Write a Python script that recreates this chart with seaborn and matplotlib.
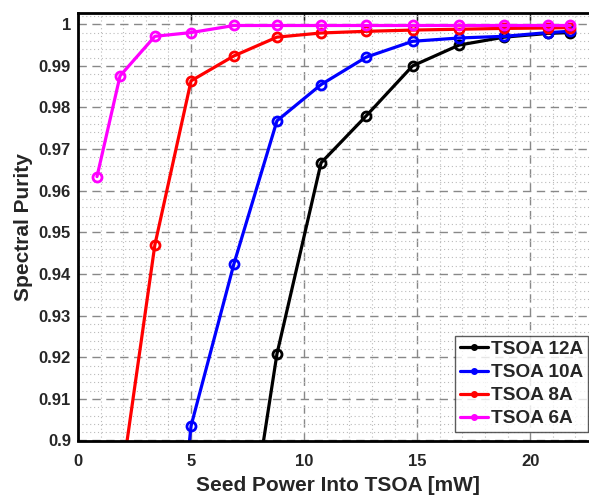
import numpy as np
import pandas as pd
import seaborn as sns
import matplotlib
matplotlib.use("Agg")
import matplotlib.pyplot as plt
from matplotlib.lines import Line2D
from matplotlib.ticker import MultipleLocator

# ---- data ----
x_12A = [6.9, 8.8, 10.75, 12.75, 14.8, 16.86, 18.85, 20.8, 21.77]
y_12A = [0.854, 0.9208, 0.9667, 0.9780, 0.9900, 0.9950, 0.9969, 0.9978, 0.9980]

x_10A = [3.4, 5.0, 6.9, 8.8, 10.75, 12.75, 14.8, 16.86, 18.85, 20.8, 21.77]
y_10A = [0.820, 0.9035, 0.9425, 0.9768, 0.9855, 0.9921, 0.9959, 0.9967, 0.9971, 0.9980, 0.9983]

x_8A = [1.86, 3.4, 5.0, 6.9, 8.8, 10.75, 12.75, 14.8, 16.86, 18.85, 20.8, 21.77]
y_8A = [0.888, 0.9470, 0.9864, 0.9924, 0.9969, 0.9979, 0.9983, 0.9986, 0.9988, 0.9990, 0.9991, 0.9992]

x_6A = [0.84, 1.86, 3.4, 5.0, 6.9, 8.8, 10.75, 12.75, 14.8, 16.86, 18.85, 20.8, 21.77]
y_6A = [0.9634, 0.9876, 0.9971, 0.9980, 0.9997, 0.9997, 0.9997, 0.9997, 0.9997, 0.9997, 0.9997, 0.9997, 0.9997]

series_names = ["TSOA 12A", "TSOA 10A", "TSOA 8A", "TSOA 6A"]
series_colors = ["#000000", "#0000ff", "#ff0000", "#ff00ff"]
x_ticks = [0, 5, 10, 15, 20]
y_ticks = [0.9, 0.91, 0.92, 0.93, 0.94, 0.95, 0.96, 0.97, 0.98, 0.99, 1.0]
y_tick_labels = ["0.9", "0.91", "0.92", "0.93", "0.94", "0.95", "0.96", "0.97", "0.98", "0.99", "1"]

frames = []
for name, xs, ys in zip(series_names,
                        [x_12A, x_10A, x_8A, x_6A],
                        [y_12A, y_10A, y_8A, y_6A]):
    frames.append(pd.DataFrame({"power": xs, "purity": ys, "series": name}))
df = pd.concat(frames, ignore_index=True)

sns.set_theme(style="white")
plt.rcParams["font.family"] = ["Liberation Sans", "DejaVu Sans"]
plt.rcParams["font.weight"] = "bold"

fig = plt.figure(figsize=(5.89, 4.95), dpi=100)
# axes extends slightly past the right edge of the figure, as in the reference crop
ax = fig.add_axes([78 / 589, 1 - 440.5 / 495, (598 - 78) / 589, (440.5 - 13) / 495])

sns.lineplot(data=df, x="power", y="purity", hue="series", hue_order=series_names,
             palette=series_colors, marker="o", linewidth=2.3, markersize=6.5,
             sort=False, estimator=None, legend=False, ax=ax)

for line, c in zip(ax.lines, series_colors):
    line.set_markeredgecolor(c)
    line.set_markerfacecolor("none")
    line.set_markeredgewidth(2.0)

ax.set_xlim(0, 23)
ax.set_ylim(0.9, 1.0027)
ax.set_xticks(x_ticks)
ax.set_xticklabels([str(t) for t in x_ticks])
ax.set_yticks(y_ticks)
ax.set_yticklabels(y_tick_labels)
ax.xaxis.set_minor_locator(MultipleLocator(1))
ax.yaxis.set_minor_locator(MultipleLocator(0.002))

ax.grid(which="major", color="#888888", linestyle=(0, (6, 4)), linewidth=1.0)
ax.grid(which="minor", color="#bbbbbb", linestyle=(0, (1, 2.5)), linewidth=0.8)
ax.set_axisbelow(True)

for s in ax.spines.values():
    s.set_linewidth(2.0)
    s.set_color("black")

ax.tick_params(which="major", direction="in", length=5, width=1.0, labelsize=12,
               top=True, right=True)
ax.tick_params(axis="x", which="major", pad=10)
ax.tick_params(axis="y", which="major", pad=5)
ax.tick_params(which="minor", length=0)
for lab in ax.get_xticklabels() + ax.get_yticklabels():
    lab.set_fontweight("bold")

ax.set_xlabel("Seed Power Into TSOA [mW]", fontsize=15, fontweight="bold", labelpad=5)
ax.set_ylabel("Spectral Purity", fontsize=15, fontweight="bold", labelpad=4)

handles = [Line2D([], [], color=c, linewidth=2.3, marker="o", markersize=4,
                  markerfacecolor=c, markeredgecolor=c) for c in series_colors]
leg = fig.legend(handles, series_names, loc="lower right",
                 bbox_to_anchor=(588 / 589, 1 - 432 / 495),
                 prop={"weight": "bold", "size": 13.7}, frameon=True, fancybox=False,
                 handlelength=1.5, handletextpad=0.15, borderpad=0.25, labelspacing=0.3,
                 borderaxespad=0.0)
leg.get_frame().set_edgecolor("#333333")
leg.get_frame().set_linewidth(1.0)

fig.savefig("out.png", dpi=100)
